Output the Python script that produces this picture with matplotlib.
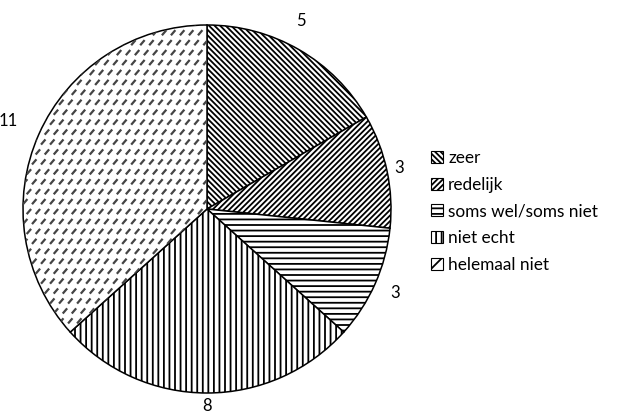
import numpy as np
import matplotlib.pyplot as plt
from matplotlib.patches import Patch
from matplotlib.collections import LineCollection

plt.rcParams['font.family'] = ['Lato', 'DejaVu Sans']
plt.rcParams['hatch.linewidth'] = 1.3

categories = ['zeer', 'redelijk', 'soms wel/soms niet', 'niet echt', 'helemaal niet']
counts = [5, 3, 3, 8, 11]
hatches = ['\\' * 6, '/' * 6, '---', '|||', '']
label_dist = [1.18, 1.07, 1.12, 1.07, 1.18]

fig = plt.figure(figsize=(6.33, 4.16), dpi=100)
ax = fig.add_axes([23 / 633, 23 / 416, 368 / 633, 368 / 416])

wedges, texts = ax.pie(counts, labels=[str(c) for c in counts], startangle=90,
                       counterclock=False, labeldistance=1.1,
                       wedgeprops=dict(facecolor='white', edgecolor='black', linewidth=1.1),
                       textprops=dict(fontsize=12))
for w, h in zip(wedges, hatches):
    w.set_hatch(h)
for t, w, d in zip(texts, wedges, label_dist):
    a = np.deg2rad((w.theta1 + w.theta2) / 2)
    t.set_position((d * np.cos(a), d * np.sin(a)))
    t.set_horizontalalignment('center')
texts[0].set_x(texts[0].get_position()[0] - 0.08)

# dashed diagonal pattern for "helemaal niet"
segs = []
for y in np.arange(-1.0, 1.0, 0.054):
    off = 0.0 if int(round(y / 0.054)) % 2 == 0 else 0.02
    for x in np.arange(-1.0 + off, 1.0, 0.049):
        segs.append([(x, y), (x + 0.024, y + 0.028)])
lc = LineCollection(segs, colors='#444444', linewidths=1.6)
ax.add_collection(lc)
lc.set_clip_path(wedges[4])

ax.set_xlim(-1, 1)
ax.set_ylim(-1, 1)
ax.set_aspect('equal')
ax.axis('off')

handles = [Patch(facecolor='white', edgecolor='black', hatch=h if h else '//', linewidth=0.8)
           for h in hatches]
leg = fig.legend(handles, categories, loc='upper left', bbox_to_anchor=(431 / 633, 1 - 150 / 416),
                 frameon=False, fontsize=12.4, handlelength=0.7, handleheight=0.7,
                 handletextpad=0.3, labelspacing=0.62, borderpad=0, borderaxespad=0)

fig.savefig('out.png', dpi=100)
